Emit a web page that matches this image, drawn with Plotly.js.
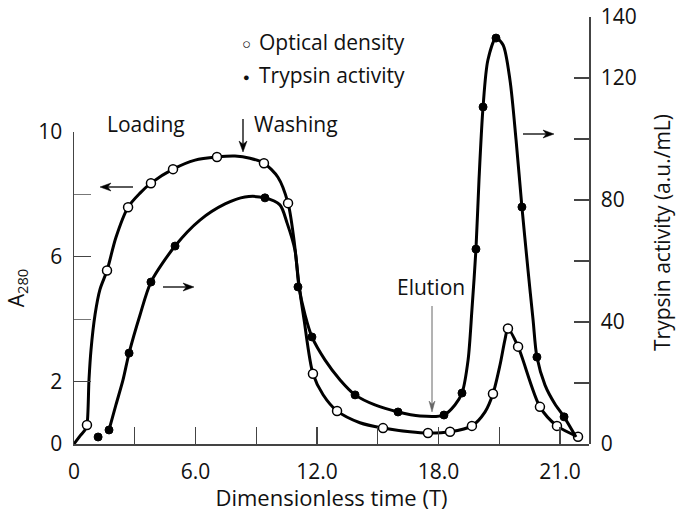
<!DOCTYPE html>
<html>
<head>
<meta charset="utf-8">
<script src="https://cdn.plot.ly/plotly-3.0.1.min.js"></script>
<style>html,body{margin:0;padding:0;background:#fff;}#chart{width:679px;height:512px;}</style>
</head>
<body>
<div id="chart"></div>
<script>
// ---- data (x in axis units where the tick labelled "21.0" sits at 24) ----
var xTickVals = [0, 6, 12, 18, 24];
var xTickText = ["0", "6.0", "12.0", "18.0", "21.0"];
var xMinorVals = [3, 9, 15, 21];
var yTickVals = [0, 2, 6, 10];
var yTickText = ["0", "2", "6", "10"];
var yMinorVals = [4, 8];
var y2TickVals = [0, 40, 80, 120, 140];
var y2TickText = ["0", "40", "80", "120", "140"];
var y2MinorVals = [20, 60, 100];

// Optical density (A280) measured points
var odX = [0.64, 1.63, 2.67, 3.80, 4.89, 7.06, 9.38, 10.57, 11.80, 12.99, 15.26, 17.48, 18.57, 19.65, 20.69, 21.43, 21.93, 23.01, 23.85, 24.89];
var odY = [0.61, 5.56, 7.59, 8.36, 8.81, 9.20, 9.00, 7.72, 2.25, 1.06, 0.51, 0.35, 0.39, 0.58, 1.61, 3.70, 3.12, 1.19, 0.58, 0.23];

// Trypsin activity measured points
var tpX = [1.19, 1.73, 2.72, 3.80, 4.99, 9.43, 11.06, 11.75, 13.88, 16.00, 18.27, 19.16, 19.85, 20.20, 20.84, 22.12, 22.86, 24.20];
var tpY = [2.3, 4.6, 29.8, 53.1, 64.9, 80.7, 51.5, 35.1, 16.1, 10.5, 9.5, 16.7, 63.9, 110.5, 133.1, 77.7, 28.5, 8.9];

// Smooth drawn curve through optical density
var odCurveX = [0, 0.30, 0.54, 0.64, 0.74, 0.84, 1.04, 1.28, 1.63, 2.07, 2.67, 3.26, 3.80, 4.89, 5.98, 7.06, 7.95, 8.69, 9.38, 10.07, 10.57, 10.86, 11.11, 11.36, 11.80, 12.30, 12.99, 14.12, 15.26, 16.59, 17.48, 18.57, 19.65, 20.30, 20.69, 21.04, 21.28, 21.43, 21.93, 23.01, 23.85, 24.89];
var odCurveY = [0, 0.26, 0.45, 0.61, 2.06, 3.02, 4.15, 4.95, 5.56, 6.62, 7.59, 8.04, 8.36, 8.81, 9.10, 9.20, 9.23, 9.16, 9.00, 8.55, 7.72, 6.56, 5.11, 3.99, 2.25, 1.58, 1.06, 0.68, 0.51, 0.39, 0.35, 0.39, 0.58, 1.03, 1.61, 2.54, 3.34, 3.70, 3.12, 1.19, 0.58, 0.23];

// Smooth drawn curve through trypsin activity
var tpCurveX = [1.73, 2.07, 2.42, 2.72, 3.26, 3.80, 4.99, 6.22, 7.46, 8.44, 9.43, 10.17, 10.52, 10.91, 11.11, 11.41, 11.75, 12.40, 13.14, 13.88, 14.86, 16.00, 17.09, 18.27, 18.81, 19.16, 19.46, 19.65, 19.85, 20.00, 20.20, 20.44, 20.84, 21.19, 21.53, 21.83, 22.12, 22.42, 22.67, 22.86, 23.26, 23.75, 24.20, 24.79];
var tpCurveY = [4.6, 12.8, 21.0, 29.8, 42.3, 53.1, 64.9, 73.4, 78.7, 81.0, 80.7, 78.4, 72.5, 63.6, 51.5, 42.3, 35.1, 27.5, 21.0, 16.1, 12.8, 10.5, 9.2, 9.5, 12.8, 16.7, 27.5, 43.9, 63.9, 86.6, 110.5, 125.9, 133.1, 130.8, 119.3, 99.7, 77.7, 57.0, 40.7, 28.5, 19.3, 13.1, 8.9, 2.3];

// ---- layout geometry ----
var W = 679, H = 512;
var L = 74, R = 589, T = 17, B = 444;
var Y10 = 132; // pixel row of the left axis' "10"
function px(x) { return (x - L) / (R - L); }
function py(y) { return (B - y) / (B - T); }
var FONT = "Open Sans, sans-serif";
var AX = "#444";

var traces = [
  {x: odCurveX, y: odCurveY, mode: "lines", line: {color: "#000", width: 3, shape: "spline", smoothing: 0.8}, hoverinfo: "skip", showlegend: false, cliponaxis: false},
  {x: tpCurveX, y: tpCurveY, yaxis: "y2", mode: "lines", line: {color: "#000", width: 3, shape: "spline", smoothing: 0.8}, hoverinfo: "skip", showlegend: false},
  {x: odX, y: odY, mode: "markers", name: "Optical density", marker: {symbol: "circle", size: 9, color: "#fff", line: {color: "#000", width: 1.5}}, showlegend: false, cliponaxis: false},
  {x: tpX, y: tpY, yaxis: "y2", mode: "markers", name: "Trypsin activity", marker: {symbol: "circle", size: 8, color: "#000", line: {color: "#000", width: 1}}, showlegend: false}
];

function txt(t, x, y, opts) {
  var a = {text: t, xref: "paper", yref: "paper", x: px(x), y: py(y), showarrow: false,
           xanchor: "center", yanchor: "middle", font: {family: FONT, size: 21, color: "#111"}};
  for (var k in (opts || {})) a[k] = opts[k];
  return a;
}
// arrow drawn as a line shape plus a barbed head path (pixel positions -> paper)
function arrowShapes(tipX, tipY, tailX, tailY, color, width, len, half) {
  color = color || "#000"; width = width || 1.3; len = len || 11; half = half || 4;
  var dx = tipX - tailX, dy = tipY - tailY, d = Math.sqrt(dx * dx + dy * dy);
  var ux = dx / d, uy = dy / d, nx = -uy, ny = ux;
  var bx = tipX - ux * len, by = tipY - uy * len;
  var kx = tipX - ux * len * 0.7, ky = tipY - uy * len * 0.7;
  var p = "M " + px(tipX) + "," + py(tipY) +
          " L " + px(bx + nx * half) + "," + py(by + ny * half) +
          " L " + px(kx) + "," + py(ky) +
          " L " + px(bx - nx * half) + "," + py(by - ny * half) + " Z";
  return [
    {type: "line", xref: "paper", yref: "paper", x0: px(tailX), y0: py(tailY), x1: px(kx), y1: py(ky), line: {color: color, width: width}},
    {type: "path", xref: "paper", yref: "paper", path: p, fillcolor: color, line: {color: color, width: 0.5}}
  ];
}

var shapes = []
  .concat(arrowShapes(243, 152, 243, 119))
  .concat(arrowShapes(100, 187, 133, 187))
  .concat(arrowShapes(194, 287, 163, 287))
  .concat(arrowShapes(554, 134, 523, 134))
  .concat(arrowShapes(432, 412, 432, 306, "#666", 1, 11, 3));

var tickCommon = {ticks: "inside", tickwidth: 1.3, tickcolor: AX, showgrid: false, zeroline: false, tickfont: {size: 21}};

var layout = {
  width: W, height: H,
  margin: {l: L, r: W - R, t: T, b: H - B, pad: 0},
  paper_bgcolor: "#fff", plot_bgcolor: "rgba(0,0,0,0)",
  font: {family: FONT, size: 20, color: "#111"},
  showlegend: false,
  xaxis: Object.assign({}, tickCommon, {
    range: [0, (R - L) / 20.25], tickmode: "array", tickvals: xTickVals, ticktext: xTickText, ticklen: 17,
    minor: {tickmode: "array", tickvals: xMinorVals, ticks: "inside", ticklen: 17, tickwidth: 1.3, tickcolor: AX},
    showline: true, linecolor: AX, linewidth: 1.5, ticklabelstandoff: 8, anchor: "y",
    title: {text: "Dimensionless time (T)", font: {size: 22}, standoff: 11}
  }),
  // left axis occupies only the lower part of the plot (0..10)
  yaxis: Object.assign({}, tickCommon, {
    domain: [0, (B - Y10) / (B - T)], anchor: "x",
    range: [0, 10], tickmode: "array", tickvals: yTickVals, ticktext: yTickText, ticklen: 17,
    minor: {tickmode: "array", tickvals: yMinorVals, ticks: "inside", ticklen: 17, tickwidth: 1.3, tickcolor: "#777"},
    showline: true, linecolor: AX, linewidth: 1.5, ticklabelstandoff: 6,
    title: {text: "A<sub>280</sub>", font: {size: 21}, standoff: 8}
  }),
  yaxis2: Object.assign({}, tickCommon, {
    domain: [0, 1], side: "right", anchor: "x",
    range: [0, 140], tickmode: "array", tickvals: y2TickVals, ticktext: y2TickText, ticklen: 15,
    minor: {tickmode: "array", tickvals: y2MinorVals, ticks: "inside", ticklen: 15, tickwidth: 1.3, tickcolor: AX},
    showline: true, linecolor: AX, linewidth: 1.5, ticklabelstandoff: 6
  }),
  shapes: shapes,
  annotations: [
    txt("Trypsin activity (a.u./mL)", 662, 233, {textangle: -90}),
    txt("○", 246, 43, {font: {family: FONT, size: 15, color: "#111"}}),
    txt("Optical density", 257, 42, {xanchor: "left"}),
    txt("●", 246, 76, {font: {family: FONT, size: 11, color: "#111"}}),
    txt("Trypsin activity", 257, 75, {xanchor: "left"}),
    txt("Loading", 146, 124),
    txt("Washing", 252, 124, {xanchor: "left"}),
    txt("Elution", 431, 287)
  ]
};

Plotly.newPlot("chart", traces, layout, {staticPlot: true, displayModeBar: false});
</script>
</body>
</html>
